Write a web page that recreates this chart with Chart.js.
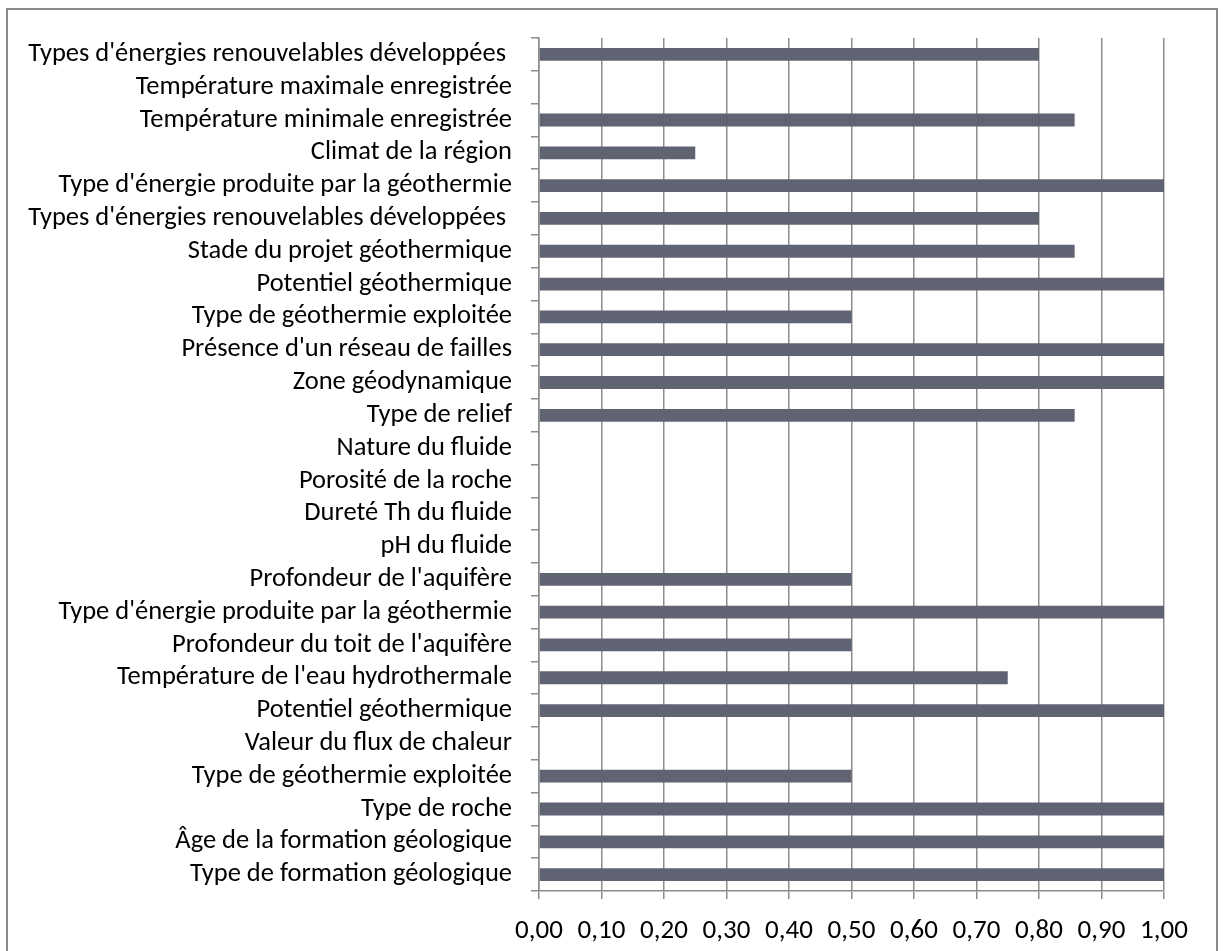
<!DOCTYPE html>
<html>
<head>
<meta charset="utf-8">
<script src="https://cdn.jsdelivr.net/npm/chart.js@4/dist/chart.umd.min.js"></script>
<style>
  html, body { margin: 0; padding: 0; background: #fff; }
  #wrap { position: relative; width: 1225px; height: 951px; }
</style>
</head>
<body>
<div id="wrap"><canvas id="scoreChart"></canvas></div>
<script>
/* critères, de haut en bas */
const criteres = [
  "Types d'énergies renouvelables développées ",
  "Température maximale enregistrée",
  "Température minimale enregistrée",
  "Climat de la région",
  "Type d'énergie produite par la géothermie",
  "Types d'énergies renouvelables développées ",
  "Stade du projet géothermique",
  "Potentiel géothermique",
  "Type de géothermie exploitée",
  "Présence d'un réseau de failles",
  "Zone géodynamique",
  "Type de relief",
  "Nature du fluide",
  "Porosité de la roche",
  "Dureté Th du fluide",
  "pH du fluide",
  "Profondeur de l'aquifère",
  "Type d'énergie produite par la géothermie",
  "Profondeur du toit de l'aquifère",
  "Température de l'eau hydrothermale",
  "Potentiel géothermique",
  "Valeur du flux de chaleur",
  "Type de géothermie exploitée",
  "Type de roche",
  "Âge de la formation géologique",
  "Type de formation géologique"
];

/* taux de renseignement (0 à 1) */
const taux = [
  0.80, 0, 0.857, 0.25, 1.00, 0.80, 0.857, 1.00, 0.50, 1.00,
  1.00, 0.857, 0, 0, 0, 0, 0.50, 1.00, 0.50, 0.75,
  1.00, 0, 0.50, 1.00, 1.00, 1.00
];

const xMin = 0, xMax = 1, xPas = 0.1;

const POLICE = "Calibri, Carlito, Lato, 'Open Sans', sans-serif";
const GRIS = '#8c8c8c';

// cadre gris autour du graphique (le bas sort de la page)
const cadre = {
  id: 'cadre',
  afterDraw(chart) {
    const ctx = chart.ctx;
    ctx.save();
    ctx.strokeStyle = '#8a8a8a';
    ctx.lineWidth = 2;
    ctx.strokeRect(7, 9, 1210, 1000);
    ctx.restore();
  }
};

new Chart(document.getElementById('scoreChart'), {
  type: 'bar',
  data: {
    labels: criteres,
    datasets: [{
      data: taux,
      backgroundColor: '#606372',
      barPercentage: 0.39,
      categoryPercentage: 1.0
    }]
  },
  options: {
    indexAxis: 'y',
    responsive: true,
    maintainAspectRatio: false,
    animation: false,
    layout: { padding: { top: 38, right: 61, left: 0, bottom: 0 } },
    plugins: {
      legend: { display: false },
      tooltip: { enabled: false }
    },
    scales: {
      x: {
        min: xMin,
        max: xMax,
        afterFit(axis) { axis.height = 60; },
        border: { color: GRIS, width: 1.5 },
        grid: { color: GRIS, lineWidth: 1.5, tickLength: 8 },
        ticks: {
          stepSize: xPas,
          padding: 16,
          color: '#000',
          font: { family: POLICE, size: 27 },
          callback: v => v.toFixed(2).replace('.', ',')
        }
      },
      y: {
        afterFit(axis) { axis.width = 539; },
        border: { color: GRIS, width: 1.5 },
        grid: { color: GRIS, lineWidth: 1.5, drawOnChartArea: false, tickLength: 8, offset: true },
        ticks: {
          padding: 19,
          color: '#000',
          autoSkip: false,
          font: { family: POLICE, size: 26.5 }
        }
      }
    }
  },
  plugins: [cadre]
});
</script>
</body>
</html>
